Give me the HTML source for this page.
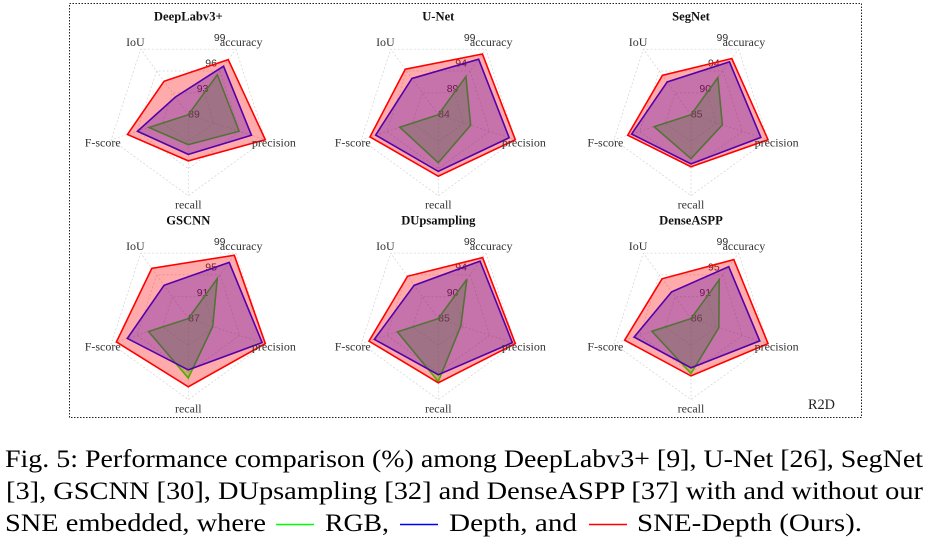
<!DOCTYPE html>
<html>
<head>
<meta charset="utf-8">
<title>Performance comparison radar charts</title>
<style>
html,body{margin:0;padding:0;background:#fff;width:931px;height:556px;overflow:hidden}
svg{display:block}
.cap{font-family:"Liberation Serif",serif;font-size:25.5px;fill:#000}
.axis-label{font-family:"Liberation Serif",serif;font-size:12px;fill:#333;text-anchor:middle;dominant-baseline:central}
.tick-label{font-family:"Liberation Sans",sans-serif;font-size:10.5px;fill:#333;text-anchor:middle;dominant-baseline:central}
.chart-title{font-family:"Liberation Serif",serif;font-size:12.6px;font-weight:bold;fill:#111;text-anchor:middle;dominant-baseline:central}
</style>
</head>
<body>
<svg id="fig" xmlns="http://www.w3.org/2000/svg" width="931" height="556" viewBox="0 0 931 556">
  <rect x="69.5" y="3.5" width="792" height="414" fill="none" stroke="#222" stroke-width="1" stroke-dasharray="1.5 1.5"/>
  <g id="charts"></g>
  <text x="808" y="409" font-family="'Liberation Serif',serif" font-size="14.3" fill="#222">R2D</text>
  <g>
    <text class="cap" x="5" y="467" textLength="918" lengthAdjust="spacingAndGlyphs">Fig. 5: Performance comparison (%) among DeepLabv3+ [9], U-Net [26], SegNet</text>
    <text class="cap" x="6" y="499" textLength="917" lengthAdjust="spacingAndGlyphs">[3], GSCNN [30], DUpsampling [32] and DenseASPP [37] with and without our</text>
    <text class="cap" x="5" y="531" textLength="261" lengthAdjust="spacingAndGlyphs">SNE embedded, where</text>
    <line x1="276" y1="524.5" x2="314" y2="524.5" stroke="#00ff00" stroke-width="1.6"/>
    <text class="cap" x="325" y="531" textLength="64" lengthAdjust="spacingAndGlyphs">RGB,</text>
    <line x1="400" y1="524.5" x2="438" y2="524.5" stroke="#0000ff" stroke-width="1.6"/>
    <text class="cap" x="449" y="531" textLength="128" lengthAdjust="spacingAndGlyphs">Depth, and</text>
    <line x1="589" y1="524.5" x2="627" y2="524.5" stroke="#ff0000" stroke-width="1.6"/>
    <text class="cap" x="637" y="531" textLength="225" lengthAdjust="spacingAndGlyphs">SNE-Depth (Ours).</text>
  </g>
</svg>
<script>
const axisNames = ["accuracy", "precision", "recall", "F-score", "IoU"];
const chartTitles = ["DeepLabv3+", "U-Net", "SegNet", "GSCNN", "DUpsampling", "DenseASPP"];
const tickLabels = [
  [89, 93, 96, 99],
  [84, 89, 94, 99],
  [85, 90, 94, 99],
  [87, 91, 95, 99],
  [85, 90, 94, 98],
  [86, 91, 95, 99]
];
const rgbValues = [
  [95.1, 95.6, 92.7, 94.1, 89],
  [92.7, 90.3, 92.9, 91.5, 84],
  [92.9, 90.7, 92.6, 91.7, 85],
  [94.3, 90.8, 95.8, 93.2, 87],
  [92.8, 88.8, 95.1, 91.9, 85],
  [93.7, 90.7, 94.8, 92.6, 86]
];
const depthValues = [
  [96.4, 97.2, 93.9, 95.6, 91.7],
  [96.7, 97.8, 94.5, 96.2, 92.3],
  [96.3, 97.7, 93.5, 95.8, 92],
  [97.3, 98.5, 94.6, 96.5, 93.1],
  [96.4, 97.5, 94, 95.8, 91.6],
  [96.3, 97.6, 93.9, 95.6, 91.3]
];
const sneDepthValues = [
  [97.4, 99, 94.7, 96.9, 94.1],
  [97.9, 99, 95.4, 97.3, 94.4],
  [97, 99, 94, 96.5, 93.4],
  [98.6, 99, 97.1, 98.2, 96.2],
  [97.1, 98, 95.3, 96.7, 93.4],
  [97.7, 99, 95.2, 97.2, 93.9]
];

const NS = "http://www.w3.org/2000/svg";
const RADIUS = 81;
const LABEL_RADIUS = 90;
const colX = [188.3, 438.3, 691];
const rowY = [114.7, 318.6];
const seriesStyles = [
  { key: "rgb", color: "#00ff00", values: rgbValues },
  { key: "depth", color: "#0000ff", values: depthValues },
  { key: "sne-depth", color: "#ff0000", values: sneDepthValues }
];

function slug(s) {
  return s.toLowerCase().replace(/[^a-z0-9]+/g, "-").replace(/-$/, "");
}
function make(tag, attrs, parent) {
  const el = document.createElementNS(NS, tag);
  Object.keys(attrs).forEach(function (k) { el.setAttribute(k, attrs[k]); });
  parent.appendChild(el);
  return el;
}
function axisAngle(i) {
  return (36 + i * 72) * Math.PI / 180;
}
function polar(cx, cy, i, r) {
  const a = axisAngle(i);
  return [cx + r * Math.sin(a), cy - r * Math.cos(a)];
}
function scaleRadius(value, ticks) {
  const lo = ticks[0];
  const hi = ticks[ticks.length - 1];
  return (value - lo) / (hi - lo) * RADIUS;
}
function pointsFor(cx, cy, radii) {
  return radii.map(function (r, i) {
    return polar(cx, cy, i, r).map(function (n) { return n.toFixed(2); }).join(",");
  }).join(" ");
}

const root = document.getElementById("charts");
chartTitles.forEach(function (title, c) {
  const cx = colX[c % 3];
  const cy = rowY[Math.floor(c / 3)];
  const ticks = tickLabels[c];
  const name = slug(title);

  const g = make("g", {}, root);
  
  

  const t = make("text", { x: cx, y: cy - 98, "class": "chart-title" }, g);
  t.textContent = title;
  
  

  for (let k = 1; k < ticks.length; k++) {
    const ringR = k / (ticks.length - 1) * RADIUS;
    const ring = make("polygon", {
      points: pointsFor(cx, cy, axisNames.map(function () { return ringR; })),
      fill: "none", stroke: "#d2d2d2", "stroke-width": 0.7, "stroke-dasharray": "2 2"
    }, g);
    
    
  }
  axisNames.forEach(function (axis, i) {
    const end = polar(cx, cy, i, RADIUS);
    const spoke = make("line", {
      x1: cx, y1: cy, x2: end[0], y2: end[1],
      stroke: "#d2d2d2", "stroke-width": 0.7, "stroke-dasharray": "2 2"
    }, g);
    
    
  });

  ticks.forEach(function (tick, k) {
    const r = k / (ticks.length - 1) * RADIUS;
    const a = 18.5 * Math.PI / 180;
    const label = make("text", {
      x: cx + 5.7 + r * Math.sin(a),
      y: cy - r * Math.cos(a),
      "class": "tick-label"
    }, g);
    label.textContent = tick;
    
    
  });

  seriesStyles.forEach(function (s) {
    const radii = s.values[c].map(function (v) { return scaleRadius(v, ticks); });
    const poly = make("polygon", {
      points: pointsFor(cx, cy, radii),
      fill: s.color, "fill-opacity": 0.33,
      stroke: s.color, "stroke-width": 1.6, "stroke-linejoin": "miter"
    }, g);
    
    
  });

  axisNames.forEach(function (axis, i) {
    const p = polar(cx, cy, i, LABEL_RADIUS);
    const label = make("text", { x: p[0], y: p[1], "class": "axis-label" }, g);
    label.textContent = axis;
    
    
  });
});
</script>
</body>
</html>
